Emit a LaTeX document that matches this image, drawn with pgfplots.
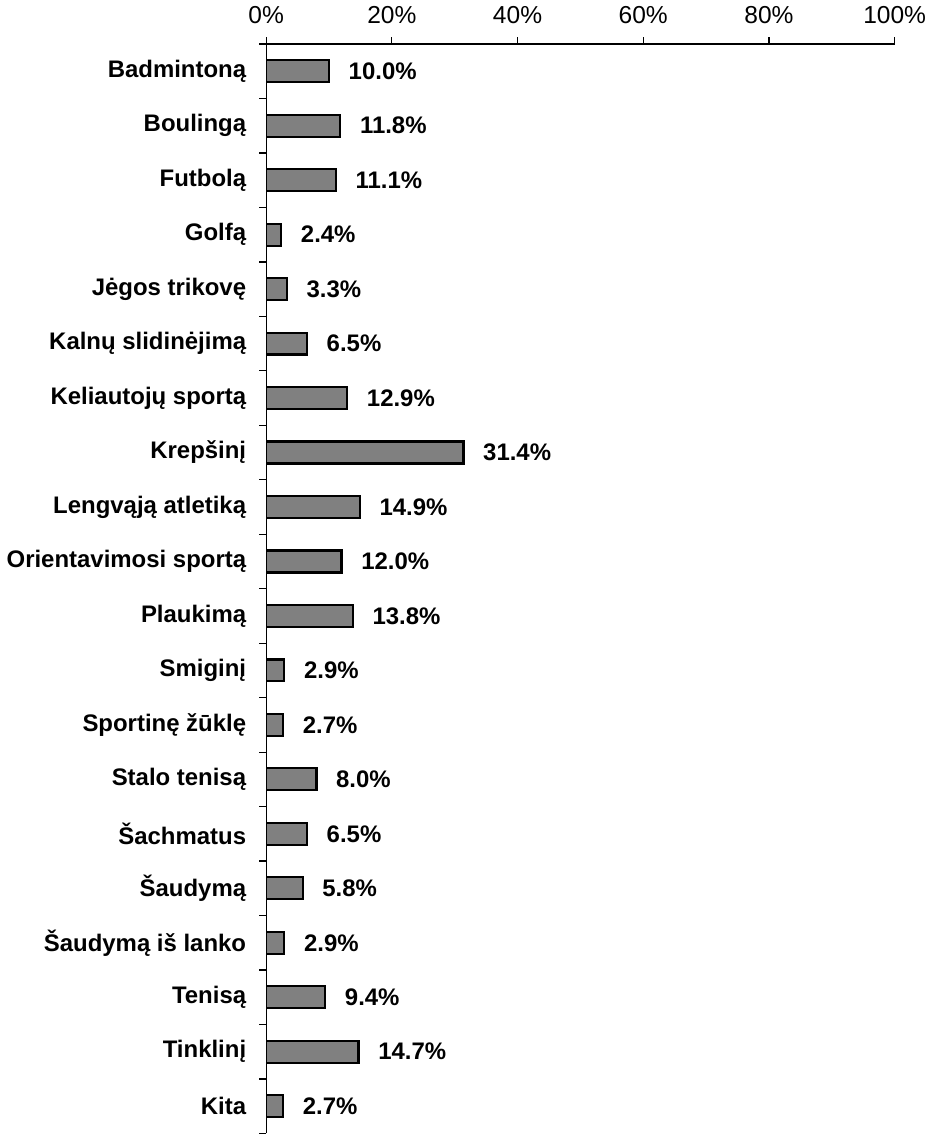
\documentclass[border=0pt]{standalone}
\usepackage{fontspec}
\setmainfont{Liberation Sans}
\usepackage{pgfplots}
\pgfplotsset{compat=1.18}

\definecolor{barfill}{RGB}{128,128,128}

\begin{document}
\begin{tikzpicture}
\begin{axis}[
  scale only axis,
  width=315pt, height=546pt,
  xbar, bar width=11pt,
  xmin=0, xmax=100,
  ymin=-0.5, ymax=19.5,
  axis x line=top, axis y line=left,
  axis line style={-, line width=0.6pt},
  tick align=outside,
  major tick length=3.5pt, minor tick length=3.5pt,
  tick style={line width=0.6pt, black},
  xtick={0,20,40,60,80,100},
  xticklabels={0\%,20\%,40\%,60\%,80\%,100\%},
  xticklabel style={font=\fontsize{12.3}{14}\selectfont, yshift=3pt},
  ytick={0,...,19},
  major y tick style={draw=none},
  minor ytick={-0.5,0.5,...,19.5},
  yticklabels={Kita, Tinklinį, Tenisą, Šaudymą iš lanko, Šaudymą, Šachmatus,
    Stalo tenisą, Sportinę žūklę, Smiginį, Plaukimą, Orientavimosi sportą,
    Lengvąją atletiką, Krepšinį, Keliautojų sportą, Kalnų slidinėjimą,
    Jėgos trikovę, Golfą, Futbolą, Boulingą, Badmintoną},
  yticklabel style={font=\bfseries\fontsize{12}{14}\selectfont, xshift=-3pt},
  point meta=x,
  nodes near coords={\pgfmathprintnumber[fixed,fixed zerofill,precision=1,assume math mode=true]{\pgfplotspointmeta}\%},
  every node near coord/.append style={font=\bfseries\fontsize{12}{14}\selectfont, black, xshift=6pt},
]
\addplot[fill=barfill, draw=black, line width=1.1pt] coordinates {
  (10.0,19) (11.8,18) (11.1,17) (2.4,16) (3.3,15) (6.5,14) (12.9,13)
  (31.4,12) (14.9,11) (12.0,10) (13.8,9) (2.9,8) (2.7,7) (8.0,6)
  (6.5,5) (5.8,4) (2.9,3) (9.4,2) (14.7,1) (2.7,0)
};
\end{axis}
\end{tikzpicture}
\end{document}
